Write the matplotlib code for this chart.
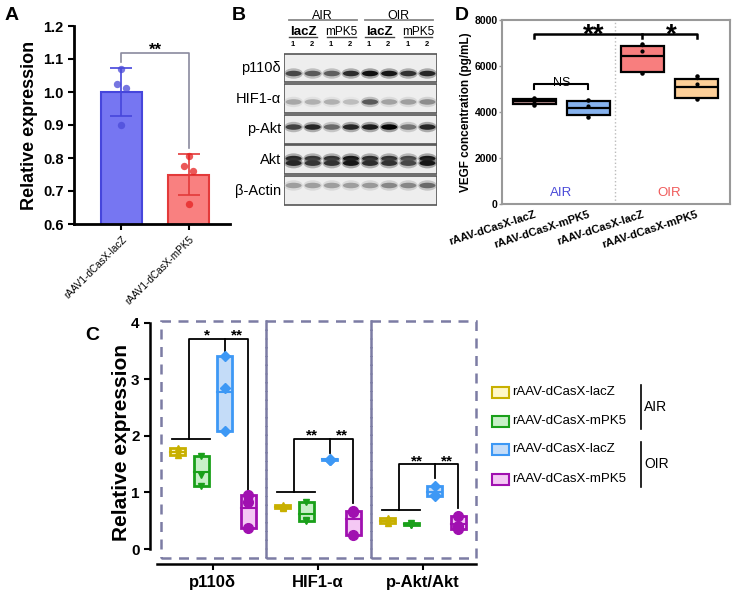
import matplotlib
matplotlib.use("Agg")
import matplotlib.pyplot as plt
from matplotlib.patches import Rectangle, Ellipse

plt.rcParams["font.family"] = ["Liberation Sans", "DejaVu Sans"]

# ---- panel A data
a_labels = ["rAAV1-dCasX-lacZ", "rAAV1-dCasX-mPK5"]
a_means = [1.0, 0.75]
a_sd = [0.072, 0.062]
a_points = [[1.07, 1.025, 1.012, 0.90], [0.805, 0.775, 0.76, 0.66]]

# ---- panel B data (band darkness per lane)
b_rows = ["p110δ", "HIF1-α", "p-Akt", "Akt", "β-Actin"]
b_bands = [
    [0.70, 0.62, 0.60, 0.82, 0.95, 0.92, 0.80, 0.85],
    [0.28, 0.24, 0.24, 0.18, 0.62, 0.30, 0.32, 0.40],
    [0.72, 0.85, 0.55, 0.85, 0.90, 1.00, 0.50, 0.85],
    [0.85, 0.78, 0.80, 0.92, 0.82, 0.80, 0.70, 0.92],
    [0.32, 0.32, 0.32, 0.32, 0.34, 0.42, 0.42, 0.55],
]
b_conditions = ["AIR", "OIR"]
b_treatments = ["lacZ", "mPK5", "lacZ", "mPK5"]
b_lane_nums = ["1", "2", "1", "2", "1", "2", "1", "2"]

# ---- panel C data
c_groups = ["p110δ", "HIF1-α", "p-Akt/Akt"]
c_series = ["rAAV-dCasX-lacZ", "rAAV-dCasX-mPK5", "rAAV-dCasX-lacZ", "rAAV-dCasX-mPK5"]
c_air_lacz = [[1.78, 1.72, 1.66], [0.77, 0.75, 0.72], [0.55, 0.50, 0.46]]
c_air_mpk5 = [[1.64, 1.31, 1.12], [0.84, 0.52, 0.50], [0.46, 0.43, 0.42]]
c_oir_lacz = [[3.42, 2.84, 2.08], [1.60, 1.58, 1.57], [1.12, 0.96, 0.94]]
c_oir_mpk5 = [[0.95, 0.84, 0.38], [0.68, 0.66, 0.24], [0.58, 0.40, 0.36]]
c_base_y = [1.95, 1.0, 0.69]
c_top_y = [3.72, 1.95, 1.50]
c_drop_lacz = [3.43, 1.70, 1.26]
c_drop_mpk5 = [1.0, 0.81, 0.73]
c_stars = [["*", "**"], ["**", "**"], ["**", "**"]]

# ---- panel D data
d_labels = ["rAAV-dCasX-lacZ", "rAAV-dCasX-mPK5", "rAAV-dCasX-lacZ", "rAAV-dCasX-mPK5"]
d_low = [4300, 3785, 5705, 4545]
d_q1 = [4360, 3860, 5760, 4615]
d_med = [4460, 4160, 6450, 5100]
d_q3 = [4580, 4460, 6880, 5450]
d_high = [4620, 4530, 6955, 5550]
d_mean = [4470, 4245, 6665, 5235]

W, H = 733, 591


def px_box(l, t, r, b):
    return [l / W, 1 - b / H, (r - l) / W, (b - t) / H]


fig = plt.figure(figsize=(W / 100, H / 100), dpi=100)

# ================= A
ax_a = fig.add_axes(px_box(74, 26, 230, 224))
a_face = ["#7676f2", "#f98080"]
a_edge = ["#4646dc", "#e33a3a"]
a_dot = ["#4a4ad8", "#e52020"]
a_jitter = [0.0, -0.065, 0.065, 0.0]
for i in range(2):
    ax_a.bar(i, a_means[i], width=0.61, bottom=0, color=a_face[i],
             edgecolor=a_edge[i], linewidth=1.5, zorder=2)
    ax_a.errorbar(i, a_means[i], yerr=a_sd[i], color=a_edge[i], capsize=8,
                  elinewidth=1.2, capthick=1.2, zorder=3)
    ax_a.scatter([i + j for j in a_jitter], a_points[i], s=28, color=a_dot[i],
                 alpha=0.75, zorder=4, linewidths=0)
ax_a.plot([0, 0, 1, 1], [1.09, 1.117, 1.117, 0.83], color="#8a8a9e", lw=1.2)
ax_a.text(0.5, 1.112, "**", ha="center", va="baseline", fontsize=12, fontweight="bold")
ax_a.set_ylim(0.6, 1.2)
ax_a.set_xlim(-0.7, 1.61)
ax_a.set_yticks([0.6, 0.7, 0.8, 0.9, 1.0, 1.1, 1.2])
ax_a.set_yticklabels([f"{v:.1f}" for v in ax_a.get_yticks()], fontsize=10.5, fontweight="bold")
ax_a.set_xticks([0, 1])
ax_a.set_xticklabels(a_labels, rotation=45, ha="right", rotation_mode="anchor", fontsize=7.2)
ax_a.set_ylabel("Relative expression", fontsize=13, fontweight="bold", labelpad=4)
for s in ["top", "right"]:
    ax_a.spines[s].set_visible(False)
for s in ["left", "bottom"]:
    ax_a.spines[s].set_linewidth(2)
ax_a.tick_params(width=1.5, length=4)
fig.text(5 / W, 1 - 20 / H, "A", fontsize=14, fontweight="bold")

# ================= B
ax_b = fig.add_axes(px_box(284, 53, 437, 206))
ax_b.set_xlim(0, 8)
ax_b.set_ylim(5, 0)
ax_b.axis("off")
band_y = [[0.67], [0.6], [0.42], [0.45, 0.6], [0.33]]
for r, name in enumerate(b_rows):
    ax_b.add_patch(Rectangle((0, r + 0.02), 8, 0.94, facecolor="#eeeeee",
                             edgecolor="#555555", lw=1.2))
    for lane, v in enumerate(b_bands[r]):
        g = 0.9 - 0.88 * v
        for yy in band_y[r]:
            ax_b.add_patch(Ellipse((lane + 0.5, r + yy), 0.98, 0.34,
                                   color=str(min(g + 0.12, 0.92)), alpha=0.4, lw=0))
            ax_b.add_patch(Ellipse((lane + 0.5, r + yy), 0.84, 0.18,
                                   color=str(g), lw=0))
    ax_b.text(-0.15, r + 0.5, name, ha="right", va="center", fontsize=10.5)
for k, cond in enumerate(b_conditions):
    ax_b.text(2 + 4 * k, -1.22, cond, ha="center", va="center", fontsize=9)
    ax_b.plot([0.25 + 4 * k, 3.8 + 4 * k], [-1.08, -1.08], color="#888888", lw=1.3,
              clip_on=False)
for k, tr in enumerate(b_treatments):
    bold = tr == "lacZ"
    ax_b.text(1 + 2 * k, -0.7, tr, ha="center", va="center",
              fontsize=9.5 if bold else 8.5, fontweight="bold" if bold else "normal")
    ax_b.plot([0.25 + 2 * k, 1.75 + 2 * k], [-0.52, -0.52], color="#444444", lw=1.0,
              clip_on=False)
for lane, n in enumerate(b_lane_nums):
    ax_b.text(lane + 0.45, -0.27, n, ha="center", va="center", fontsize=5.5,
              fontweight="bold")
fig.text(232 / W, 1 - 20 / H, "B", fontsize=14, fontweight="bold")

# ================= C
ax_c = fig.add_axes(px_box(150, 320, 477.6, 564.3))
c_all = [c_air_lacz, c_air_mpk5, c_oir_lacz, c_oir_mpk5]
c_line = ["#c8b000", "#1aa01a", "#3d98f5", "#a010b0"]
c_fill = ["#fff8c8", "#c8f0c8", "#c4dcf8", "#f4c8f4"]
c_mark = ["^", "v", "D", "o"]
c_off = [-0.3375, -0.1125, 0.1125, 0.3375]
for g in range(3):
    ax_c.add_patch(Rectangle((g - 0.5, -0.16), 1, 4.19, fill=False, edgecolor="#7c7ca4",
                             linestyle=(0, (4, 3)), lw=1.8, clip_on=False))
    for s in range(4):
        vals = c_all[s][g]
        x = g + c_off[s]
        lo, hi = min(vals), max(vals)
        mean = sum(vals) / len(vals)
        ax_c.add_patch(Rectangle((x - 0.07, lo), 0.14, hi - lo, facecolor=c_fill[s],
                                 edgecolor=c_line[s], lw=2, zorder=3))
        ax_c.plot([x - 0.07, x + 0.07], [mean, mean], color=c_line[s], lw=1.5, zorder=4)
        ax_c.plot([x] * len(vals), vals, linestyle="none", marker=c_mark[s],
                  markersize=5 if c_mark[s] != "o" else 7, color=c_line[s], zorder=5)
    xl = g + (c_off[0] + c_off[1]) / 2
    xb = g + c_off[2]
    xp = g + c_off[3]
    ax_c.plot([g + c_off[0] - 0.05, g + c_off[1] + 0.08], [c_base_y[g]] * 2, color="black", lw=1.3)
    ax_c.plot([xl, xl, xp, xp], [c_base_y[g], c_top_y[g], c_top_y[g], c_drop_mpk5[g]],
              color="black", lw=1.3)
    ax_c.plot([xb, xb], [c_top_y[g], c_drop_lacz[g]], color="black", lw=1.3)
    ax_c.text((xl + xb) / 2, c_top_y[g] - 0.02, c_stars[g][0], ha="center", va="baseline",
              fontsize=11, fontweight="bold")
    ax_c.text((xb + xp) / 2, c_top_y[g] - 0.02, c_stars[g][1], ha="center", va="baseline",
              fontsize=11, fontweight="bold")
ax_c.set_xlim(-0.6, 2.52)
ax_c.set_ylim(-0.27, 4.05)
ax_c.spines["top"].set_visible(False)
ax_c.spines["right"].set_visible(False)
ax_c.spines["left"].set_bounds(0, 4)
ax_c.spines["bottom"].set_bounds(-0.53, 2.5)
ax_c.spines["left"].set_linewidth(1.8)
ax_c.spines["bottom"].set_linewidth(1.8)
ax_c.set_yticks([0, 1, 2, 3, 4])
ax_c.set_yticklabels(["0", "1", "2", "3", "4"], fontsize=11, fontweight="bold")
ax_c.set_xticks([0, 1, 2])
ax_c.set_xticklabels(c_groups, fontsize=12, fontweight="bold")
ax_c.tick_params(width=1.5, length=4)
ax_c.set_ylabel("Relative expression", fontsize=15, fontweight="bold", labelpad=0)
fig.text(85 / W, 1 - 340 / H, "C", fontsize=14, fontweight="bold")

# legend for C
ax_l = fig.add_axes(px_box(480, 370, 733, 500))
ax_l.set_xlim(480, 733)
ax_l.set_ylim(500, 370)
ax_l.axis("off")
leg_y = [392, 421, 449.5, 479]
for s in range(4):
    ax_l.add_patch(Rectangle((492, leg_y[s] - 5.5), 17, 11, facecolor=c_fill[s],
                             edgecolor=c_line[s], lw=1.5))
    ax_l.text(512, leg_y[s], c_series[s], ha="left", va="center", fontsize=9.5)
for cond, (y0, y1) in zip(b_conditions, [(385, 429), (442, 487)]):
    ax_l.plot([641, 641], [y0, y1], color="black", lw=1.2)
    ax_l.text(644, (y0 + y1) / 2, cond, ha="left", va="center", fontsize=10)

# ================= D
ax_d = fig.add_axes(px_box(502, 20, 730, 204))
stats = [dict(med=d_med[i], q1=d_q1[i], q3=d_q3[i], whislo=d_low[i], whishi=d_high[i],
              mean=d_mean[i], fliers=[]) for i in range(4)]
pos = list(range(4))
bp = ax_d.bxp(stats, positions=pos, widths=0.8, patch_artist=True, showmeans=True,
              showcaps=False,
              boxprops=dict(linewidth=1.6, edgecolor="black"),
              medianprops=dict(color="black", linewidth=1.6),
              whiskerprops=dict(color="black", linewidth=1),
              meanprops=dict(marker="o", markerfacecolor="black", markeredgecolor="black",
                             markersize=2))
d_fill = ["#c89a9a", "#86b2ee", "#f87e7e", "#fdcf98"]
for patch, col in zip(bp["boxes"], d_fill):
    patch.set_facecolor(col)
ax_d.scatter(pos, d_low, s=5, color="black", zorder=5)
ax_d.scatter(pos, d_high, s=5, color="black", zorder=5)
ax_d.axvline(1.5, color="#bbbbbb", lw=1, linestyle=":")
ax_d.plot([0, 0, 1, 1], [5020, 5200, 5200, 5020], color="black", lw=1.5)
ax_d.text(0.5, 5150, "NS", ha="center", va="baseline", fontsize=9)
ax_d.plot([0, 0, 3, 3], [7225, 7410, 7410, 7225], color="black", lw=1.8)
ax_d.plot([2, 2], [7225, 7410], color="black", lw=1.8)
ax_d.text(1.1, 7000, "**", ha="center", va="baseline", fontsize=20, fontweight="bold")
ax_d.text(2.53, 7000, "*", ha="center", va="baseline", fontsize=20, fontweight="bold")
ax_d.text(0.5, 200, "AIR", ha="center", va="bottom", fontsize=9.5, color="#4a4ad8")
ax_d.text(2.5, 200, "OIR", ha="center", va="bottom", fontsize=9.5, color="#f05a5a")
ax_d.set_xlim(-0.6, 3.62)
ax_d.set_ylim(0, 8000)
ax_d.set_yticks([0, 2000, 4000, 6000, 8000])
ax_d.set_yticklabels(["0", "2000", "4000", "6000", "8000"], fontsize=7.5, fontweight="bold")
ax_d.set_xticks(pos)
ax_d.set_xticklabels(d_labels, rotation=18, ha="right", rotation_mode="anchor",
                     fontsize=8, fontweight="bold")
ax_d.tick_params(axis="x", length=0, pad=4)
ax_d.tick_params(axis="y", length=2, width=1, color="#999999", pad=1)
for s in ax_d.spines.values():
    s.set_color("#999999")
    s.set_linewidth(1.5)
ax_d.set_ylabel("VEGF concentration (pg/mL)", fontsize=8.5, fontweight="bold", labelpad=2)
fig.text(455 / W, 1 - 20 / H, "D", fontsize=14, fontweight="bold")

fig.savefig("out.png", dpi=100)
